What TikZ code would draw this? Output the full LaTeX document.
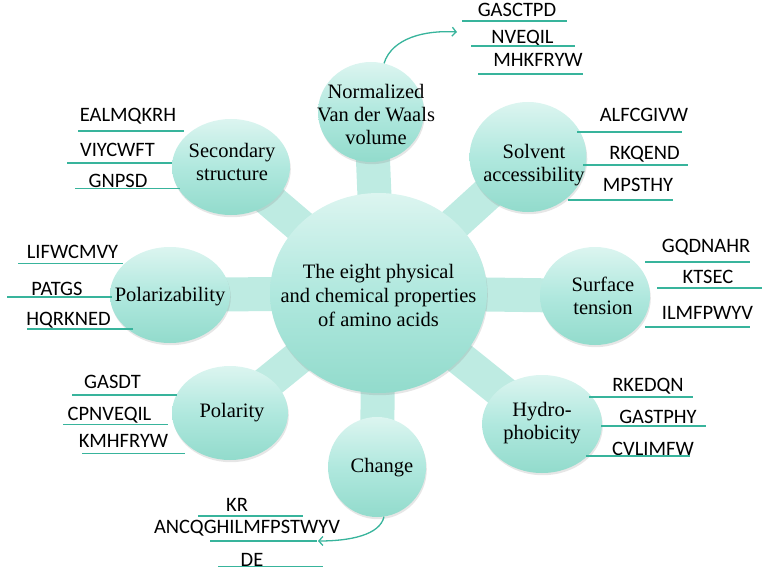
\documentclass[tikz,border=0pt]{standalone}
\usepackage{fontspec}
\setmainfont{Liberation Serif}
\newfontfamily\lblfont{Carlito}
\usetikzlibrary{shapes.geometric,arrows.meta,backgrounds,shadows}
\definecolor{tealline}{RGB}{56,180,156}
\definecolor{balltop}{RGB}{220,245,240}
\definecolor{ballmid}{RGB}{176,232,222}
\definecolor{ballbot}{RGB}{146,219,204}
\definecolor{spokecol}{RGB}{190,235,226}
\tikzset{
 ball/.style={ellipse, inner sep=0pt, top color=balltop, bottom color=ballbot, middle color=ballmid, draw=none,
   drop shadow={opacity=0.2, shadow xshift=0.8pt, shadow yshift=-2.2pt}},
 balltext/.style={align=center, inner sep=0pt, font=\fontsize{20.5}{23}\selectfont},
 spoke/.style={line width=34pt, spokecol},
 lbl/.style={font=\lblfont\fontsize{20.5}{20.5}\selectfont, anchor=base, inner sep=0pt},
 uline/.style={tealline, line width=1.3pt},
 arr/.style={tealline, line width=1.3pt, -{Straight Barb[length=4pt,width=9pt]}},
}
\begin{document}
\begin{tikzpicture}[x=1pt,y=-1pt]
\useasboundingbox (0,0) rectangle (765,572);
% circles
\node[ball, minimum width=217pt, minimum height=200pt] (core) at (378.5,293) {};
\node[ball, minimum width=106pt, minimum height=100pt] (vdw) at (371,112) {};
\node[ball, minimum width=117pt, minimum height=110pt] (solv) at (528,157) {};
\node[ball, minimum width=110pt, minimum height=98pt] (surf) at (595,296) {};
\node[ball, minimum width=120pt, minimum height=98pt] (hyd) at (542,424) {};
\node[ball, minimum width=98pt, minimum height=100pt] (chg) at (377,467) {};
\node[ball, minimum width=116pt, minimum height=94pt] (pol) at (230,413) {};
\node[ball, minimum width=120pt, minimum height=96pt] (plz) at (170,295) {};
\node[ball, minimum width=118pt, minimum height=96pt] (sec) at (231,167) {};
% spokes
\begin{scope}[on background layer]
\foreach \n in {vdw,solv,surf,hyd,chg,pol,plz,sec}
  \draw[spoke] (core.center) -- (\n.center);
\end{scope}
% circle texts
\node[balltext, font=\fontsize{20.5}{24}\selectfont] (coret) at (378.5,295) {The eight physical\\and chemical properties\\of amino acids};
\node[balltext] (vdwt) at (376,114) {Normalized\\Van der Waals\\volume};
\node[balltext] (solvt) at (534,165) {Solvent\\accessibility};
\node[balltext] (surft) at (603,296) {Surface\\tension};
\node[balltext] (hydt) at (542,423) {Hydro-\\phobicity};
\node[balltext] (chgt) at (382,468) {Change};
\node[balltext] (polt) at (232,413) {Polarity};
\node[balltext] (plzt) at (170,297) {Polarizability};
\node[balltext] (sect) at (232,162) {Secondary\\structure};
% labels: secondary structure
\node[lbl] (s1) at (128,122) {EALMQKRH}; \draw[uline] (78,131) -- (184,131);
\node[lbl] (s2) at (117.5,157) {VIYCWFT}; \draw[uline] (67,163) -- (172,163);
\node[lbl] (s3) at (118,188) {GNPSD}; \draw[uline] (75,188.5) -- (180,188.5);
% polarizability
\node[lbl] (z1) at (72.5,258) {LIFWCMVY}; \draw[uline] (18,263.5) -- (123,263.5);
\node[lbl] (z2) at (57,295) {PATGS}; \draw[uline] (7,297) -- (112,297);
\node[lbl] (z3) at (68.5,325) {HQRKNED}; \draw[uline] (27,329) -- (133,329);
% polarity
\node[lbl] (p1) at (112.5,388.5) {GASDT}; \draw[uline] (72,395) -- (177,395);
\node[lbl] (p2) at (109.5,420) {CPNVEQIL}; \draw[uline] (63,424.5) -- (168,424.5);
\node[lbl] (p3) at (123.5,447) {KMHFRYW}; \draw[uline] (82,453.5) -- (185,453.5);
% solvent accessibility
\node[lbl] (a1) at (644,122) {ALFCGIVW}; \draw[uline] (577,132) -- (682,132);
\node[lbl] (a2) at (644.5,160) {RKQEND}; \draw[uline] (583,165) -- (688,165);
\node[lbl] (a3) at (638,192) {MPSTHY}; \draw[uline] (568,200) -- (673,200);
% surface tension
\node[lbl] (t1) at (706,252) {GQDNAHR}; \draw[uline] (645,262) -- (750,262);
\node[lbl] (t2) at (708,283) {KTSEC}; \draw[uline] (657,288) -- (762,288);
\node[lbl] (t3) at (707.5,319) {ILMFPWYV}; \draw[uline] (645,327) -- (750,327);
% hydrophobicity
\node[lbl] (h1) at (648,391) {RKEDQN}; \draw[uline] (589,397) -- (693,397);
\node[lbl] (h2) at (658,423) {GASTPHY}; \draw[uline] (601,426) -- (706,426);
\node[lbl] (h3) at (653,455) {CVLIMFW}; \draw[uline] (586,456) -- (690,456);
% van der waals
\node[lbl] (v1) at (517,17) {GASCTPD}; \draw[uline] (462,21) -- (567,21);
\node[lbl] (v2) at (522.5,43.5) {NVEQIL}; \draw[uline] (471,46) -- (575,46);
\node[lbl] (v3) at (538,67) {MHKFRYW}; \draw[uline] (478,74) -- (583,74);
% change
\node[lbl] (c1) at (237,511.5) {KR}; \draw[uline] (198,516) -- (303,516);
\node[lbl] (c2) at (247,533.5) {ANCQGHILMFPSTWYV}; \draw[uline] (210,541) -- (317,541);
\node[lbl] (c3) at (252,566) {DE}; \draw[uline] (218,566.5) -- (323,566.5);
% arrows
\coordinate (va) at (457,32);
\coordinate (ca) at (318,541);
\draw[arr] (vdw.75) .. controls (392,38) and (425,30) .. (va);
\draw[arr] (chg.-82) .. controls (380,535) and (350,541) .. (ca);
\end{tikzpicture}
\end{document}
